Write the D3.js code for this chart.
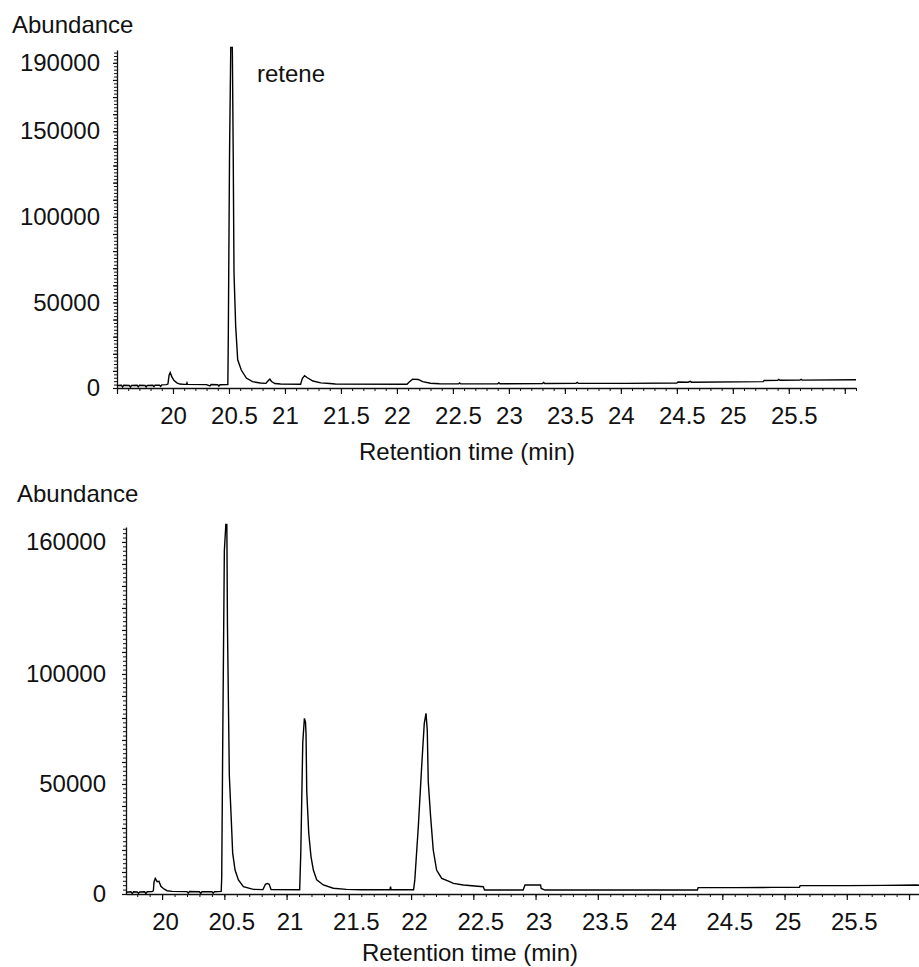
<!DOCTYPE html>
<html>
<head>
<meta charset="utf-8">
<script src="https://cdn.jsdelivr.net/npm/d3@7"></script>
<style>
  html, body { margin: 0; padding: 0; background: #fff; }
  svg { display: block; }
  text { font-family: "Liberation Sans", Arial, sans-serif; fill: #111; }
</style>
</head>
<body>
<script>
// ---------- DATA ----------
// Top chromatogram (retene standard)
const topTime = [19.50,19.54,19.55,19.56,19.61,19.62,19.63,19.68,19.69,19.70,19.75,19.76,19.77,19.82,19.83,19.84,19.88,19.89,19.90,19.94,
  19.955,19.965,19.975,19.99,20.01,20.035,20.06,20.10,20.12,20.125,20.13,20.30,20.33,20.34,20.40,20.41,20.42,20.485,
  20.490,20.494,20.505,20.516,20.530,20.538,20.545,20.560,20.578,20.61,20.655,20.71,20.78,20.83,20.85,20.865,20.88,20.91,20.96,
  21.14,21.155,21.175,21.20,21.25,21.32,21.40,21.45,22.09,22.11,22.14,22.19,22.23,22.30,22.38,
  22.55,22.56,22.57,22.90,22.91,22.92,23.30,23.31,23.32,23.60,23.61,23.62,24.05,24.50,24.51,24.60,24.62,24.63,
  25.27,25.28,25.40,25.41,25.42,25.60,25.61,25.62,26.10];
const topAbund = [1500,1600,600,1600,1500,500,1500,1600,700,1600,1500,600,1500,1600,800,1700,1600,900,1800,2000,
  2300,7500,9000,6500,4300,3000,2300,2100,2100,3000,2100,2000,1200,2000,1900,1100,1900,2000,
  2000,30000,136000,199000,199000,136000,67000,36000,16500,10500,5800,3700,2900,2700,4200,5200,3800,2600,2300,
  2200,5500,7200,6000,4100,3000,2600,2300,2200,3500,5200,5000,3700,2800,2500,
  2400,3000,2400,2500,3100,2500,2600,3200,2600,2700,3300,2700,2700,2900,3500,3400,3900,3400,
  3700,4400,4500,5000,4500,4600,5100,4600,4800];

// Bottom chromatogram (sample)
const botTime = [19.71,19.75,19.76,19.77,19.80,19.81,19.82,19.86,19.87,19.88,19.92,
  19.93,19.935,19.945,19.96,19.975,19.99,20.01,20.04,20.08,
  20.20,20.21,20.22,20.30,20.31,20.32,20.40,20.41,20.42,20.475,
  20.479,20.487,20.50,20.512,20.52,20.525,20.54,20.554,20.567,20.586,20.613,20.653,20.733,20.81,20.83,20.845,20.86,20.875,21.105,
  21.114,21.13,21.143,21.152,21.156,21.162,21.178,21.196,21.215,21.242,21.295,21.375,21.48,21.60,21.83,21.835,21.84,22.02,
  22.03,22.058,22.085,22.106,22.12,22.13,22.138,22.157,22.178,22.205,22.246,22.31,22.34,22.42,22.58,22.59,22.90,22.915,23.04,23.045,23.075,
  24.30,24.306,24.60,24.90,25.12,25.125,25.50,25.80,26.06,26.08];
const botAbund = [800,1000,200,1000,900,300,900,1000,200,1000,1100,
  1500,5500,7100,5600,5800,3500,2500,1500,1200,
  1100,400,1100,1000,300,1000,1000,400,1000,1200,
  7700,69000,156000,168000,168000,122000,54000,36000,18600,10900,6400,3300,2100,2000,4400,4800,4400,2000,1900,
  18600,69000,79800,78000,73000,46500,27600,17000,10900,6400,4100,2600,2100,1900,1900,3300,1900,1900,
  6400,30600,57900,77600,82100,74500,51000,35100,20000,10900,7100,5600,4800,4100,3300,1800,1800,4100,4100,2500,1800,
  1800,2900,2900,3000,3000,3800,3800,3900,4100,4000];

// Axis tick labels
const xTickLabels = [20,20.5,21,21.5,22,22.5,23,23.5,24,24.5,25,25.5];
const topYTickLabels = [0,50000,100000,150000,190000];
const botYTickLabels = [0,50000,100000,160000];
const yLabel = "Abundance";
const xLabel = "Retention time (min)";
const annotation = "retene";

// ---------- LAYOUT ----------
const W = 919, H = 967;
const svg = d3.select("body").append("svg").attr("width", W).attr("height", H);
svg.append("rect").attr("width", W).attr("height", H).attr("fill", "#fff");

const panels = [
  { time: topTime, abund: topAbund, yTicks: topYTickLabels,
    xDomain: [19.5, 26.1], xRange: [117, 856],
    yDomain: [0, 197500], yRange: [388, 50],
    yLabelPos: [12, 33], yTickRight: 100, halfDx: 5, intDx: 0,
    xTitle: [467, 460], note: true },
  { time: botTime, abund: botAbund, yTicks: botYTickLabels,
    xDomain: [19.71, 26.08], xRange: [126, 919],
    yDomain: [0, 166800], yRange: [894, 527],
    yLabelPos: [17, 502], yTickRight: 106, halfDx: 7, intDx: 3,
    xTitle: [470, 961], note: false }
];

panels.forEach(p => {
  const x = d3.scaleLinear().domain(p.xDomain).range(p.xRange);
  const y = d3.scaleLinear().domain(p.yDomain).range(p.yRange);
  const g = svg.append("g");
  const x0 = p.xRange[0];

  // y minor ticks
  const yMinor = d3.axisLeft(y).tickValues(d3.range(0, p.yDomain[1], 2000))
    .tickSize(3).tickSizeOuter(0).tickFormat("");
  g.append("g").attr("transform", `translate(${x0},0)`).call(yMinor)
    .call(a => a.selectAll("line").attr("stroke", "#111").attr("stroke-width", 1).attr("x2", -3).attr("x1", 1))
    .call(a => a.select(".domain").attr("stroke", "#111").attr("stroke-width", 1.3));
  // y major ticks
  const yMajor = d3.axisLeft(y).tickValues(d3.range(0, p.yDomain[1], 10000))
    .tickSize(4).tickSizeOuter(0).tickFormat("");
  g.append("g").attr("transform", `translate(${x0},0)`).call(yMajor)
    .call(a => a.select(".domain").remove())
    .call(a => a.selectAll("line").attr("stroke", "#111").attr("stroke-width", 1.2));
  // y labels
  const yLab = d3.axisLeft(y).tickValues(p.yTicks).tickSize(0).tickFormat(d3.format("d"));
  g.append("g").attr("transform", `translate(${p.yTickRight},0)`).call(yLab)
    .call(a => a.select(".domain").remove())
    .call(a => a.selectAll("text").attr("x", 0).attr("font-size", 24)
      .attr("font-family", '"Liberation Sans", Arial, sans-serif').attr("fill", "#111"));

  // x minor ticks
  const xMinorVals = d3.range(Math.ceil(p.xDomain[0] * 10), Math.floor(p.xDomain[1] * 10) + 1).map(v => v / 10);
  const xMinor = d3.axisBottom(x).tickValues(xMinorVals).tickSize(3).tickSizeOuter(0).tickFormat("");
  g.append("g").attr("transform", `translate(0,${p.yRange[0]})`).call(xMinor)
    .call(a => a.selectAll("line").attr("stroke", "#111").attr("stroke-width", 1))
    .call(a => a.select(".domain").attr("stroke", "#111").attr("stroke-width", 1.3));
  // x major ticks + labels
  const xMajorVals = d3.range(Math.ceil(p.xDomain[0] * 2), Math.floor(p.xDomain[1] * 2) + 1).map(v => v / 2);
  const xMajor = d3.axisBottom(x).tickValues(xMajorVals).tickSize(6).tickSizeOuter(0).tickFormat("");
  g.append("g").attr("transform", `translate(0,${p.yRange[0]})`).call(xMajor)
    .call(a => a.select(".domain").remove())
    .call(a => a.selectAll("line").attr("stroke", "#111").attr("stroke-width", 1.2));
  const xLab = d3.axisBottom(x).tickValues(xTickLabels).tickSize(0).tickPadding(19).tickFormat(d => String(d));
  g.append("g").attr("transform", `translate(0,${p.yRange[0]})`).call(xLab)
    .call(a => a.select(".domain").remove())
    .call(a => a.selectAll("text").attr("font-size", 24)
      .attr("font-family", '"Liberation Sans", Arial, sans-serif').attr("fill", "#111")
      .attr("dx", d => (d % 1 !== 0 ? p.halfDx : p.intDx)));

  // trace
  const data = p.time.map((t, i) => [t, p.abund[i]]);
  const line = d3.line().x(d => x(d[0])).y(d => y(d[1])).curve(d3.curveLinear);
  g.append("path").datum(data).attr("d", line)
    .attr("fill", "none").attr("stroke", "#000").attr("stroke-width", 1.4)
    .attr("stroke-linejoin", "miter");

  // titles
  g.append("text").attr("x", p.yLabelPos[0]).attr("y", p.yLabelPos[1])
    .attr("font-size", 24).text(yLabel);
  g.append("text").attr("x", p.xTitle[0]).attr("y", p.xTitle[1])
    .attr("text-anchor", "middle").attr("font-size", 24).text(xLabel);
  if (p.note) {
    g.append("text").attr("x", 257).attr("y", 82).attr("font-size", 24).text(annotation);
  }
});
</script>
</body>
</html>
